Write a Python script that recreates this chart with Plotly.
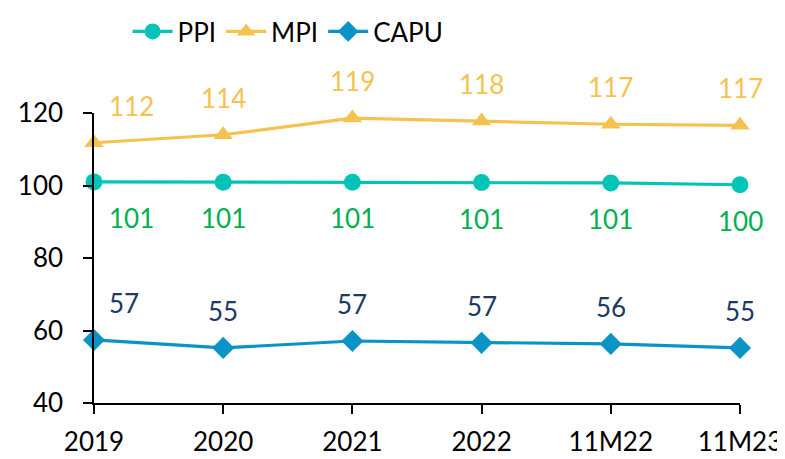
import plotly.graph_objects as go

# Categories and series
periods = ["2019", "2020", "2021", "2022", "11M22", "11M23"]
ppi = [101.0, 100.9, 100.9, 100.8, 100.7, 100.2]
mpi = [111.8, 114.0, 118.6, 117.8, 116.9, 116.6]
capu = [57.4, 55.2, 57.1, 56.6, 56.3, 55.2]
y_ticks = [40, 60, 80, 100, 120]

series = [
    # name, values, line colour, symbol, label colour, label shift
    ("PPI", ppi, "#00C4B8", "circle", "#00B050", -36),
    ("MPI", mpi, "#F4C24F", "triangle-up", "#F4C24F", 37),
    ("CAPU", capu, "#0A93C6", "diamond", "#203864", 37),
]

FONT = "Lato, Calibri, sans-serif"
FS = 26

fig = go.Figure()
annotations = []
for name, vals, color, symbol, label_color, shift in series:
    fig.add_trace(go.Scatter(
        x=list(range(len(periods))), y=vals, name=name, mode="lines+markers",
        line=dict(color=color, width=3.2),
        marker=dict(symbol=symbol, size=17, color=color),
        cliponaxis=False,
    ))
    # data labels, first point pushed right like in the source chart
    for i, v in enumerate(vals):
        annotations.append(dict(
            x=i, y=v, text=f"{v:.0f}", showarrow=False,
            yshift=shift, xshift=13 if i == 0 else 0,
            xanchor="left" if i == 0 else "center",
            font=dict(size=FS, color=label_color, family=FONT),
        ))

# page body has an 8px margin, so the figure is a little smaller than the window
fig.update_layout(
    width=777, height=451,
    margin=dict(l=86, r=45, t=105, b=56),
    paper_bgcolor="white", plot_bgcolor="white",
    font=dict(family=FONT, size=FS, color="black"),
    showlegend=True,
    legend=dict(orientation="h", x=0.052, xanchor="left", y=1.0, yref="container",
                yanchor="top", font=dict(size=FS), itemwidth=40,
                bgcolor="rgba(0,0,0,0)"),
    annotations=annotations,
)
fig.update_xaxes(
    range=[0, len(periods) - 1], tickvals=list(range(len(periods))), ticktext=periods,
    showline=True, linecolor="black", linewidth=1.5,
    ticks="outside", ticklen=9, tickcolor="black", tickwidth=1.5,
    showgrid=False, zeroline=False, tickfont=dict(size=FS),
    automargin=False, ticklabelstandoff=6,
)
fig.update_yaxes(
    range=[40, 120], tickvals=y_ticks,
    showline=True, linecolor="black", linewidth=1.5,
    ticks="outside", ticklen=9, tickcolor="black", tickwidth=1.5,
    showgrid=False, zeroline=False, tickfont=dict(size=FS),
    automargin=False, ticklabelstandoff=15,
)

fig.write_html("out.html")
